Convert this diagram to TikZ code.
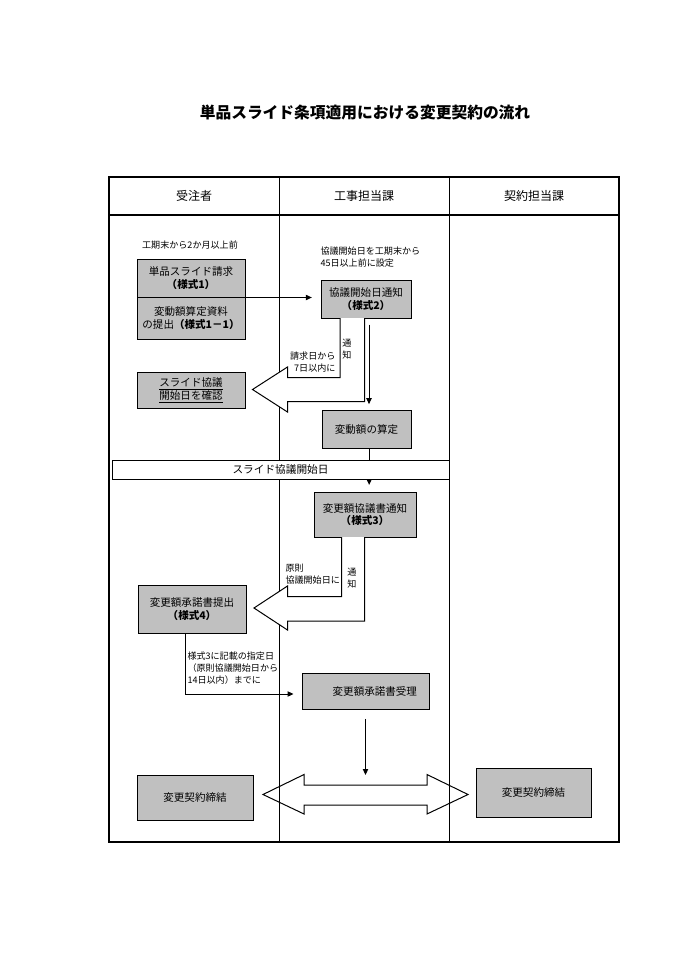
\documentclass[tikz,border=0pt]{standalone}
\usepackage{fontspec}
\setmainfont{Noto Sans CJK JP}
\usetikzlibrary{arrows.meta}

\tikzset{every picture/.style={line width=0.75pt}}
\tikzset{
  box/.style 2 args={draw, fill={rgb, 255:red, 192; green, 192; blue, 192 }, minimum width=#1*0.75pt, minimum height=#2*0.75pt, inner sep=0pt, align=center, font=\fontsize{7.9}{9.6}\selectfont},
  note/.style={inner sep=0.75pt, font=\fontsize{6.8}{9}\selectfont},
  lane/.style={font=\fontsize{9}{11}\selectfont},
  flow/.style={-{Triangle[length=4.5pt,width=4pt]}},
  hollow/.style={draw, fill=white, line join=miter},
}

\begin{document}
\begin{tikzpicture}[x=0.75pt,y=0.75pt,yscale=-1,xscale=1]
\path (0,0) rectangle (692,979); %page of 692 x 979

% Text Node
\draw (365,113) node (title) [font=\fontsize{11.8}{14}\selectfont\bfseries] {単品スライド条項適用における変更契約の流れ};

%Straight Lines [lanes]
\draw (279,177) -- (279,842);
\draw (449,177) -- (449,842);
%Shape: Rectangle [frame]
\draw [line width=1.5] (109,177) rectangle (619,842);
\draw [line width=1.5] (109,215) -- (619,215);

% Text Node
\draw (194,196) node (hcontractor) [lane] {受注者};
% Text Node
\draw (364,196) node (hworks) [lane] {工事担当課};
% Text Node
\draw (534,196) node (hcontract) [lane] {契約担当課};

% Text Node
\draw (190,245) node (tlimit) [note] {工期末から2か月以上前};
% Text Node
\draw (319,257) node (tset) [note, anchor=west, align=left] {協議開始日を工期末から\\45日以上前に設定};

%Boxes
\draw (191,278) node (req) [box={108}{38}] {単品スライド請求\\\textbf{（様式1）}};
\draw (191,318) node (data) [box={108}{42}] {変動額算定資料\\の提出\textbf{（様式1－1）}};
\draw (366,299) node (notice) [box={90}{38}] {協議開始日通知\\\textbf{（様式2）}};
\draw (191,390) node (confirm) [box={108}{36}] {\underline{スライド協議}\\\underline{開始日を確認}};
\draw (366.5,429) node (calc) [box={89}{38}] {変動額の算定};
\draw (365,514.5) node (agree) [box={102}{45}] {変更額協議書通知\\\textbf{（様式3）}};
\draw (192,609) node (submit) [box={108}{48}] {変更額承諾書提出\\\textbf{（様式4）}};
\draw (365.5,691) node (accept) [box={127}{36}] {\hspace*{14pt}変更額承諾書受理};
\draw (195,797.5) node (concl) [box={116}{45}] {変更契約締結};
\draw (533.5,792.5) node (concr) [box={115}{49}] {変更契約締結};

%Straight Lines [id:req]
\draw [flow, shorten >=6.5pt] (req.south east) -- (req.south east -| notice.west);

%Shape: Hollow Arrow [id:notify1]
\draw [hollow] (340,318) -- (340,377.5) -- (287.5,377.5) -- (287.5,367) -- (252.5,389.5) -- (287.5,412) -- (287.5,401.5) -- (364.5,401.5) -- (364.5,318);
% Text Node
\draw (337,362) node (tweek) [note, anchor=east, align=right] {請求日から\\7日以内に};
% Text Node
\draw (347,349) node (tnotify1) [note, align=center] {通\\知};

%Straight Lines [id:calc]
\draw [flow, shorten <=4.5pt, shorten >=4pt] ([xshift=2.25pt]notice.south) -- ([xshift=2.25pt]notice.south |- calc.north);
\draw [flow, shorten >=4.9pt] ([xshift=2pt]calc.south) -- ([xshift=2pt]calc.south |- agree.north);

% Text Node [band]
\draw (280.5,469.5) node (band) [draw, fill=white, minimum width=337*0.75pt, minimum height=19*0.75pt, inner sep=0pt, font=\fontsize{8}{10}\selectfont] {スライド協議開始日};

%Shape: Hollow Arrow [id:notify2]
\draw [hollow] (341.5,537) -- (341.5,596.5) -- (287.5,596.5) -- (287.5,586) -- (254,608) -- (287.5,630) -- (287.5,621) -- (364.5,621) -- (364.5,537);
% Text Node
\draw (284,574) node (tprinc) [note, anchor=west, align=left] {原則\\協議開始日に};
% Text Node
\draw (352,578) node (tnotify2) [note, align=center] {通\\知};

%Straight Lines [id:submit]
\draw [flow, shorten >=6pt] ([xshift=-4.9pt]submit.south) |- ([yshift=2.25pt]accept.west);
% Text Node
\draw (186,668) node (tdue) [note, anchor=west, align=left] {様式3に記載の指定日\\（原則協議開始日から\\14日以内）までに};

%Shape: Double Hollow Arrow [id:sign]
\draw [hollow, fill=none] (263,794.5) -- (304,774.5) -- (304,785) -- (427,785) -- (427,774.5) -- (468,794.5) -- (427,814) -- (427,805) -- (304,805) -- (304,814) -- cycle;
\coordinate (signtop) at (365.5,785);
\draw [flow, shorten <=7pt, shorten >=7.5pt] (accept.south) -- (signtop);

\end{tikzpicture}
\end{document}
